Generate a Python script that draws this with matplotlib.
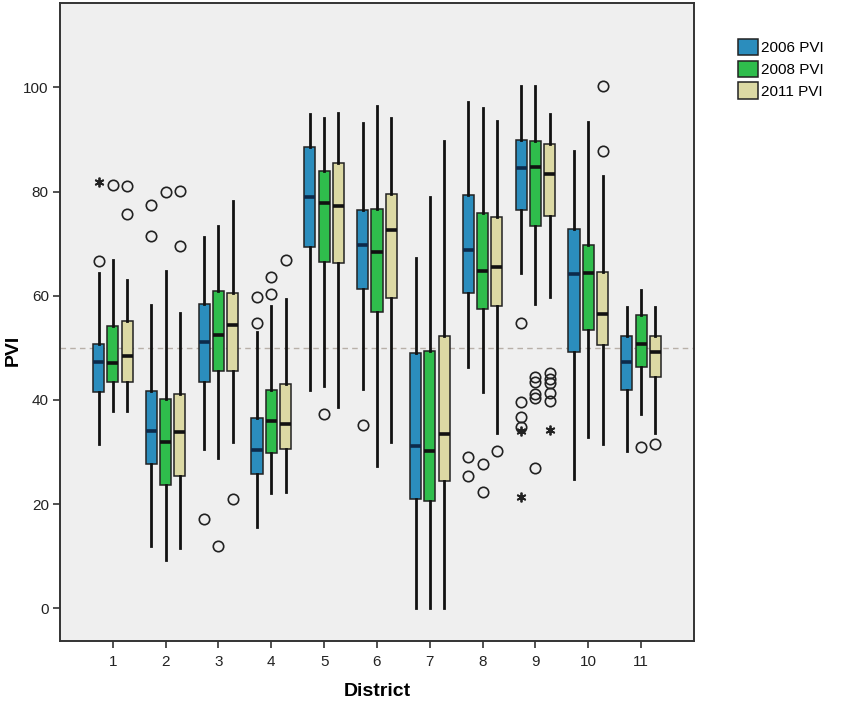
import numpy as np
import matplotlib.pyplot as plt
from matplotlib.patches import Patch

plt.rcParams['font.family'] = ['Liberation Sans', 'DejaVu Sans']

districts = [1, 2, 3, 4, 5, 6, 7, 8, 9, 10, 11]
series = ['2006 PVI', '2008 PVI', '2011 PVI']
colors = ['#2b8dbd', '#2fbd4c', '#dcd9a4']
median_colors = ['#0d2a4a', '#111111', '#111111']

# five-number summaries, one list per year
whislo_06 = [31.6, 11.9, 30.6, 15.5, 41.9, 42.1, 0.0, 46.4, 64.3, 24.9, 30.2]
q1_06 = [41.5, 27.6, 43.5, 25.7, 69.4, 61.3, 20.9, 60.5, 76.4, 49.2, 41.9]
med_06 = [47.3, 34.0, 51.2, 30.4, 79.0, 69.7, 31.2, 68.7, 84.6, 64.1, 47.3]
q3_06 = [50.8, 41.7, 58.5, 36.6, 88.5, 76.4, 49.0, 79.4, 89.9, 72.9, 52.2]
whishi_06 = [64.3, 58.2, 71.3, 53.0, 94.8, 93.1, 67.3, 97.2, 100.2, 87.7, 57.8]

whislo_08 = [37.9, 9.2, 28.8, 22.1, 42.7, 27.3, 0.0, 41.5, 58.5, 32.8, 37.3]
q1_08 = [43.5, 23.7, 45.5, 29.8, 66.5, 56.8, 20.5, 57.4, 73.4, 53.4, 46.4]
med_08 = [47.1, 32.0, 52.4, 36.0, 77.8, 68.3, 30.2, 64.7, 84.8, 64.3, 50.7]
q3_08 = [54.2, 40.1, 60.9, 41.9, 84.0, 76.6, 49.4, 75.8, 89.8, 69.8, 56.2]
whishi_08 = [66.9, 64.8, 73.3, 58.1, 94.1, 96.5, 79.0, 96.1, 100.2, 93.3, 61.0]

whislo_11 = [37.9, 11.5, 31.9, 22.3, 38.7, 31.9, 0.0, 33.6, 59.8, 31.6, 33.6]
q1_11 = [43.5, 25.3, 45.5, 30.6, 66.3, 59.6, 24.5, 58.1, 75.4, 50.6, 44.4]
med_11 = [48.4, 33.9, 54.4, 35.4, 77.2, 72.7, 33.4, 65.5, 83.4, 56.5, 49.2]
q3_11 = [55.2, 41.1, 60.5, 43.1, 85.5, 79.6, 52.3, 75.2, 89.1, 64.5, 52.2]
whishi_11 = [63.1, 56.6, 78.2, 59.3, 95.1, 94.1, 89.7, 93.5, 94.8, 83.0, 57.8]

# outliers (circles) and extreme values (stars), per district
circles_06 = [[66.7], [77.5, 71.5], [17.1], [59.8, 54.8], [], [35.2], [], [29.0, 25.3],
              [54.8, 39.6, 36.8, 34.8], [], []]
circles_08 = [[81.2], [80.0], [11.9], [63.6, 60.4], [37.3], [], [], [27.7, 22.3],
              [44.4, 43.5, 41.2, 40.3, 27.0], [], [31.0]]
circles_11 = [[81.1, 75.6], [80.2, 69.5], [21.0], [66.9], [], [], [], [30.2],
              [45.1, 44.1, 43.2, 41.3, 39.7], [100.2, 87.7], [31.6]]
stars_06 = [[81.8], [], [], [], [], [], [], [], [34.0, 21.3], [], []]
stars_08 = [[], [], [], [], [], [], [], [], [], [], []]
stars_11 = [[], [], [], [], [], [], [], [], [34.2], [], []]

summaries = [
    (whislo_06, q1_06, med_06, q3_06, whishi_06, circles_06, stars_06),
    (whislo_08, q1_08, med_08, q3_08, whishi_08, circles_08, stars_08),
    (whislo_11, q1_11, med_11, q3_11, whishi_11, circles_11, stars_11),
]

fig = plt.figure(figsize=(8.46, 7.02), dpi=100)
ax = fig.add_axes([0.0709, 0.0869, 0.7494, 0.9088])
ax.set_facecolor('#efefef')

# reference line at 50
ax.axhline(50, color='#b8b0a8', linestyle=(0, (4, 3)), linewidth=1.0, zorder=1)

offsets = [-0.27, 0.0, 0.27]
x = np.array(districts, dtype=float)
for k, (lo, q1, med, q3, hi, circ, star) in enumerate(summaries):
    stats = []
    for i in range(len(districts)):
        stats.append(dict(whislo=lo[i], q1=q1[i], med=med[i], q3=q3[i],
                          whishi=hi[i], fliers=circ[i]))
    pos = x + offsets[k]
    ax.bxp(stats, positions=pos, widths=0.21, patch_artist=True, showcaps=False,
           boxprops=dict(facecolor=colors[k], edgecolor='#222222', linewidth=1.1),
           whiskerprops=dict(color='#111111', linewidth=2.0),
           medianprops=dict(color=median_colors[k], linewidth=2.6),
           flierprops=dict(marker='o', markerfacecolor='none', markeredgecolor='#222222',
                           markersize=7.5, markeredgewidth=1.2),
           manage_ticks=False, zorder=3)
    for i in range(len(districts)):
        if star[i]:
            ax.plot([pos[i]] * len(star[i]), star[i], linestyle='none', marker=(6, 2, 0),
                    color='#222222', markersize=7, markeredgewidth=1.3, zorder=4)

ax.set_xlim(0, 12)
ax.set_ylim(-6.3, 116.2)
ax.set_xticks(districts)
ax.set_xticklabels([str(d) for d in districts])
ax.set_yticks([0, 20, 40, 60, 80, 100])
ax.tick_params(axis='both', labelsize=11, length=5, width=1.2, color='#333333',
               labelcolor='#222222')
ax.tick_params(axis='x', pad=5)
ax.tick_params(axis='y', pad=3)
for s in ax.spines.values():
    s.set_linewidth(1.4)
    s.set_color('#333333')

ax.set_xlabel('District', fontsize=14, fontweight='bold', labelpad=10)
ax.set_ylabel('PVI', fontsize=14, fontweight='bold')
ax.yaxis.set_label_coords(-0.06, 0.456)

handles = [Patch(facecolor=c, edgecolor='#222222', linewidth=1.1) for c in colors]
fig.legend(handles, series, loc='upper left', bbox_to_anchor=(0.863, 0.955),
           frameon=False, fontsize=11, handlelength=1.3, handleheight=1.25,
           handletextpad=0.2, labelspacing=0.35, borderpad=0)

fig.savefig('out.png', dpi=100)
